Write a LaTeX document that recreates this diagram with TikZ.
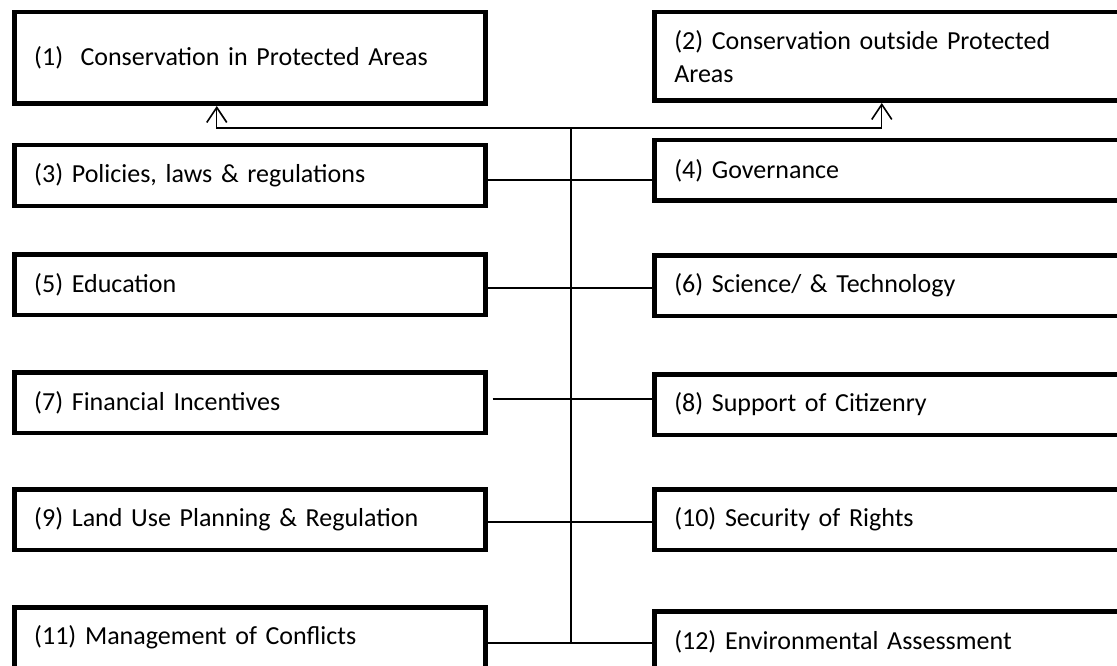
\documentclass[tikz,border=0pt]{standalone}
\usepackage{fontspec}
\setmainfont{Carlito}
\usetikzlibrary{arrows.meta,calc}
\tikzset{
%Define standard arrow tip
>={Straight Barb[length=15pt,width=20pt,line width=1.6pt]},
%Define styles for boxes and lines
box/.style={draw, line width=4.5pt, anchor=north west, text width=431pt,
  inner xsep=20pt, minimum height=60.5pt, align=left,
  font=\fontsize{26}{31}\selectfont},
top box/.style={box, minimum height=#1},
connection/.style={line width=1.3pt},
}

\begin{document}
\begin{tikzpicture}[x=1pt, y=-1pt]
    % Frame of the picture
    \useasboundingbox (0,0) rectangle (1117,666);
    \clip (0,0) rectangle (1117,666);

    % The two aims at the top
    \node[top box=91.5pt] (b1) at (12,10) {(1)\ \ Conservation in Protected Areas};
    \node[top box=88.5pt] (b2) at (652,10) {(2) Conservation outside Protected\\[2pt]Areas};

    % Instruments, left column
    \node[box] (b3) at (12,143) {(3) Policies, laws \& regulations};
    \node[box] (b5) at (12,252) {(5) Education};
    \node[box] (b7) at (12,370) {(7) Financial Incentives};
    \node[box] (b9) at (12,487) {(9) Land Use Planning \& Regulation};
    \node[box] (b11) at (12,605) {(11) Management of Conflicts};

    % Instruments, right column
    \node[box] (b4) at (652,138) {(4) Governance};
    \node[box] (b6) at (652,253) {(6) Science/ \& Technology};
    \node[box] (b8) at (652,372) {(8) Support of Citizenry};
    \node[box] (b10) at (652,487) {(10) Security of Rights};
    \node[box] (b12) at (652,609) {(12) Environmental Assessment};

    % Points on the spine
    \path
    coordinate (split) at (571,128)
    coordinate (j3) at (571,180)
    coordinate (j5) at (571,288)
    coordinate (j7) at (571,399)
    coordinate (j9) at (571,522)
    coordinate (j11) at (571,643);

    % Spine and arrows to the aims
    \draw[connection] (split) -- (j11);
    \draw[connection,->] (split) -| ([xshift=-33pt]b1.south);
    \draw[connection,->] (split) -| ([xshift=-8pt]b2.south);

    % Rows
    \draw[connection] (j3 -| b3.east) -- (j3 -| b4.west);
    \draw[connection] (j5 -| b5.east) -- (j5 -| b6.west);
    \draw[connection] ($(j7 -| b7.east)+(5,0)$) -- (j7 -| b8.west);
    \draw[connection] (j9 -| b9.east) -- (j9 -| b10.west);
    \draw[connection] (j11 -| b11.east) -- (j11 -| b12.west);
\end{tikzpicture}
\end{document}
